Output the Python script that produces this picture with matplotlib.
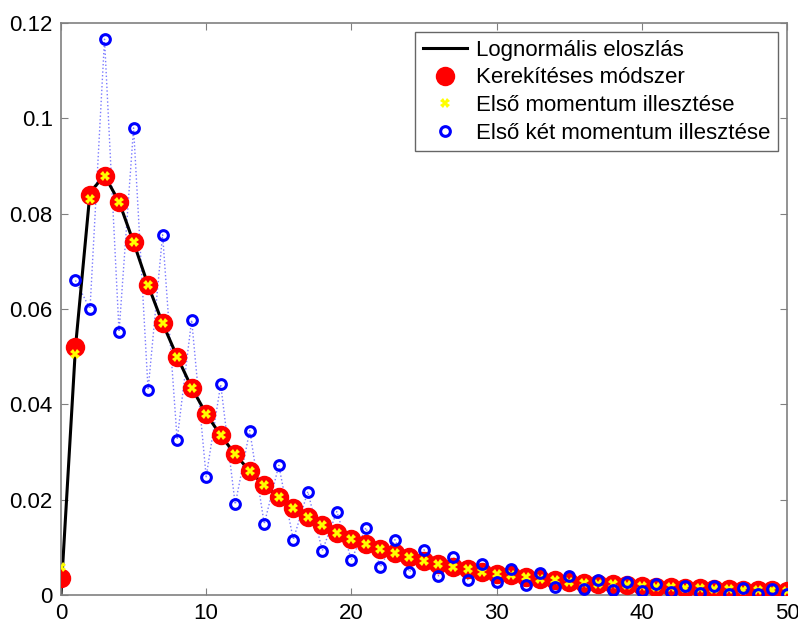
import numpy as np
import matplotlib.pyplot as plt

plt.rcParams['font.family'] = ['Liberation Sans', 'DejaVu Sans']

# data
k = np.arange(0, 51)

lognormal = [0.0, 0.052, 0.0845, 0.088, 0.0825, 0.074, 0.065, 0.057, 0.050, 0.0435,
             0.038, 0.0335, 0.0295, 0.026, 0.023, 0.0205, 0.0183, 0.0163, 0.0146, 0.0131,
             0.0118, 0.0107, 0.0097, 0.0088, 0.0079, 0.0072, 0.0065, 0.0059, 0.0054, 0.0049,
             0.0045, 0.0041, 0.0037, 0.0034, 0.0031, 0.0028, 0.0026, 0.0024, 0.0022, 0.0020,
             0.0018, 0.0017, 0.0016, 0.0015, 0.0014, 0.0013, 0.0012, 0.0011, 0.0010, 0.0010,
             0.0009]

rounding = [0.0036, 0.052, 0.084, 0.088, 0.0825, 0.074, 0.065, 0.057, 0.050, 0.0435,
            0.038, 0.0335, 0.0295, 0.026, 0.023, 0.0205, 0.0183, 0.0163, 0.0146, 0.0131,
            0.0118, 0.0107, 0.0097, 0.0088, 0.0079, 0.0072, 0.0065, 0.0059, 0.0054, 0.0049,
            0.0045, 0.0041, 0.0037, 0.0034, 0.0031, 0.0028, 0.0026, 0.0024, 0.0022, 0.0020,
            0.0018, 0.0017, 0.0016, 0.0015, 0.0014, 0.0013, 0.0012, 0.0011, 0.0010, 0.0010,
            0.0009]

first_moment = [0.0058, 0.0505, 0.083, 0.088, 0.0825, 0.074, 0.065, 0.057, 0.050, 0.0435,
                0.038, 0.0335, 0.0295, 0.026, 0.023, 0.0205, 0.0183, 0.0163, 0.0146, 0.0131,
                0.0118, 0.0107, 0.0097, 0.0088, 0.0079, 0.0072, 0.0065, 0.0059, 0.0054, 0.0049,
                0.0045, 0.0041, 0.0037, 0.0034, 0.0031, 0.0028, 0.0026, 0.0024, 0.0022, 0.0020,
                0.0018, 0.0017, 0.0016, 0.0015, 0.0014, 0.0013, 0.0012, 0.0011, 0.0010, 0.0010,
                0.0009]

# no visible point at k=0
two_moments = [np.nan, 0.066, 0.060, 0.1166, 0.0552, 0.098, 0.043, 0.0756, 0.0326, 0.0577,
               0.0248, 0.0442, 0.019, 0.0345, 0.0149, 0.0272, 0.0116, 0.0217, 0.0093, 0.0175,
               0.0074, 0.0141, 0.0059, 0.0116, 0.0048, 0.0095, 0.0040, 0.0080, 0.0032, 0.0065,
               0.0027, 0.0055, 0.0021, 0.0046, 0.0017, 0.0040, 0.0013, 0.0032, 0.0011, 0.0027,
               0.0008, 0.0023, 0.0007, 0.0019, 0.0005, 0.0018, 0.0003, 0.0015, 0.0002, 0.0012,
               0.0003]

labels = ['Lognormális eloszlás', 'Kerekítéses módszer',
          'Első momentum illesztése', 'Első két momentum illesztése']

fig = plt.figure(figsize=(7.98, 6.23), dpi=100)
ax = fig.add_axes([0.0764, 0.045, 0.9098, 0.918])

ax.plot(k, two_moments, ':', color='#7a7aff', linewidth=1.0, zorder=1)
ax.plot(k, lognormal, '-', color='black', linewidth=2.2, label=labels[0], zorder=2)
ax.plot(k, rounding, 'o', color='red', markersize=14, markeredgewidth=0,
        linestyle='none', label=labels[1], zorder=3)
ax.plot(k, first_moment, 'X', color='yellow', markersize=7, markeredgewidth=0,
        linestyle='none', label=labels[2], zorder=4)
ax.plot(k, two_moments, 'o', color='blue', markerfacecolor='none', markersize=7,
        markeredgewidth=2.2, linestyle='none', label=labels[3], zorder=5)

ax.set_xlim(0, 50)
ax.set_ylim(0, 0.12)
ax.set_xticks(np.arange(0, 51, 10))
ax.set_yticks([0, 0.02, 0.04, 0.06, 0.08, 0.1, 0.12])
ax.set_yticklabels(['0', '0.02', '0.04', '0.06', '0.08', '0.1', '0.12'])
ax.tick_params(direction='in', top=True, right=True, labelsize=16,
               color='#808080', length=5, pad=6)
for s in ax.spines.values():
    s.set_color('#808080')
    s.set_linewidth(1.2)

leg = ax.legend(loc='upper right', fontsize=16, frameon=True, fancybox=False,
                edgecolor='#404040', borderaxespad=0.4, handlelength=2.0,
                handletextpad=0.4, labelspacing=0.3, borderpad=0.35)
leg.get_frame().set_linewidth(1.0)

fig.savefig('out.png', dpi=100)
